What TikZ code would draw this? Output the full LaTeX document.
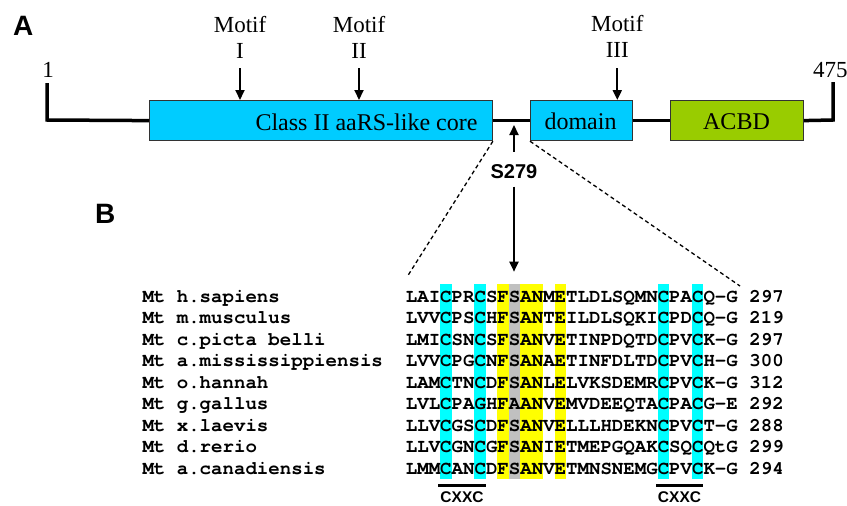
\documentclass[tikz,border=0pt]{standalone}
\usepackage{fontspec}
\setmainfont{Liberation Serif}
\newfontfamily\sansf{Liberation Sans}
\newfontfamily\monof{texgyrecursor}[Extension=.otf,UprightFont=*-regular,BoldFont=*-bold]
\usetikzlibrary{arrows.meta}
\definecolor{boxcyan}{HTML}{00CCFF}
\definecolor{acbdgreen}{HTML}{99CC00}
\definecolor{hlcyan}{HTML}{00FFFF}
\definecolor{hlyellow}{HTML}{FFFF00}
\definecolor{hlgray}{HTML}{C0C0C0}
\newcommand\hlcol[2]{\fill[#2] ({405.7+(#1-1)*11.45},284) rectangle ++(11.45,195);}
\begin{document}
\begin{tikzpicture}[x=1pt,y=-1pt,
  backbone/.style={line width=3.5pt},
  domainbox/.style={draw=black!80, line width=1.2pt, inner sep=0pt, anchor=north west, minimum height=40pt},
  lbl/.style={font=\fontsize{23}{26}\selectfont, inner sep=0pt, anchor=base},
  boxlbl/.style={font=\fontsize{24}{28}\selectfont, inner sep=0pt, anchor=base},
  seq/.style={font=\monof\bfseries\fontsize{19.08}{21}\selectfont, inner sep=0pt, anchor=base west},
  motifarrow/.style={line width=2pt, -{Triangle[length=10pt,width=9pt]}},
  zoomline/.style={line width=1.3pt, dash pattern=on 4pt off 3pt},
  panel/.style={font=\sansf\bfseries\fontsize{28}{30}\selectfont, inner sep=0pt, anchor=base west},
  cxxc/.style={font=\sansf\bfseries\fontsize{15.5}{17}\selectfont, inner sep=0pt, anchor=base},
  bar/.style={line width=2.7pt},
]
\useasboundingbox (0,0) rectangle (847,506);
% panel labels
\node[panel] (pa) at (13,35) {A};
\node[panel] (pb) at (95,223) {B};
% domain boxes
\node[domainbox, fill=boxcyan, minimum width=342.7pt] (core) at (149,100) {};
\node[domainbox, fill=boxcyan, minimum width=101.7pt] (dom) at (530,100) {};
\node[domainbox, fill=acbdgreen, minimum width=132.7pt] (acbd) at (670,100) {};
\node[boxlbl] (corelbl) at (366.5,130) {Class II aaRS-like core};
\node[boxlbl] (domlbl) at (580.5,129.5) {domain};
\node[boxlbl] (acbdlbl) at (736.5,129.5) {ACBD};
% backbone
\coordinate (n1) at (47,83);
\coordinate (c1) at (47,120);
\coordinate (c2) at (833,120);
\coordinate (n2) at (833,82);
\draw[backbone] (n1) -- (c1) -- (core.west);
\draw[backbone] (core.east) -- (dom.west);
\draw[backbone] (dom.east) -- (acbd.west);
\draw[backbone] (acbd.east) -- (c2) -- (n2);
\node[lbl] (one) at (48,77.3) {1};
\node[lbl, anchor=base west] (last) at (813,77.3) {475};
% motifs
\node[lbl] (m1a) at (240,32.3) {Motif};
\node[lbl] (m1b) at (240,58) {I};
\coordinate (m1s) at (240,68);
\draw[motifarrow] (m1s) -- (m1s |- core.north);
\node[lbl] (m2a) at (359,32.3) {Motif};
\node[lbl] (m2b) at (359,58) {II};
\coordinate (m2s) at (359,68);
\draw[motifarrow] (m2s) -- (m2s |- core.north);
\node[lbl] (m3a) at (617.3,31.7) {Motif};
\node[lbl] (m3b) at (617.3,57.3) {III};
\coordinate (m3s) at (617.3,68);
\draw[motifarrow] (m3s) -- (m3s |- dom.north);
% S279
\node[font=\sansf\bfseries\fontsize{20}{22}\selectfont, inner sep=0pt, anchor=base] (s279) at (514,178.3) {S279};
\coordinate (sup) at (514,151.7);
\coordinate (stip) at (514,125);
\coordinate (sdn) at (514,186.7);
\coordinate (sbot) at (514,271.7);
\draw[motifarrow] (sup) -- (stip);
\draw[motifarrow] (sdn) -- (sbot);
% zoom lines
\coordinate (dl) at (407,277);
\coordinate (dr) at (740,286);
\draw[zoomline] (core.south east) -- (dl);
\draw[zoomline] (dom.south west) -- (dr);
% highlights
\hlcol{4}{hlcyan}
\hlcol{7}{hlcyan}
\hlcol{23}{hlcyan}
\hlcol{26}{hlcyan}
\hlcol{9}{hlyellow}
\hlcol{11}{hlyellow}
\hlcol{12}{hlyellow}
\hlcol{14}{hlyellow}
\hlcol{10}{hlgray}
% alignment
\foreach \i/\nm/\sq/\nu in {
  1/{Mt h.sapiens}/{LAICPRCSFSANMETLDLSQMNCPACQ-G}/297,
  2/{Mt m.musculus}/{LVVCPSCHFSANTEILDLSQKICPDCQ-G}/219,
  3/{Mt c.picta belli}/{LMICSNCSFSANVETINPDQTDCPVCK-G}/297,
  4/{Mt a.mississippiensis}/{LVVCPGCNFSANAETINFDLTDCPVCH-G}/300,
  5/{Mt o.hannah}/{LAMCTNCDFSANLELVKSDEMRCPVCK-G}/312,
  6/{Mt g.gallus}/{LVLCPAGHFAANVEMVDEEQTACPACG-E}/292,
  7/{Mt x.laevis}/{LLVCGSCDFSANVELLLHDEKNCPVCT-G}/288,
  8/{Mt d.rerio}/{LLVCGNCGFSANIETMEPGQAKCSQCQtG}/299,
  9/{Mt a.canadiensis}/{LMMCANCDFSANVETMNSNEMGCPVCK-G}/294}{
  \node[seq] (nm\i) at (142.3,{302.3+21.5*(\i-1)}) {\nm};
  \node[seq] (sq\i) at (405.7,{302.3+21.5*(\i-1)}) {\sq};
  \node[seq] (nu\i) at (749.2,{302.3+21.5*(\i-1)}) {\nu};
}
% CXXC bars
\coordinate (b1l) at (438,485.5);
\coordinate (b1r) at (486,485.5);
\coordinate (b2l) at (656,485.5);
\coordinate (b2r) at (703,485.5);
\draw[bar] (b1l) -- (b1r);
\draw[bar] (b2l) -- (b2r);
\node[cxxc] (cx1) at (462,502.5) {CXXC};
\node[cxxc] (cx2) at (679.5,502.5) {CXXC};
\end{tikzpicture}
\end{document}
